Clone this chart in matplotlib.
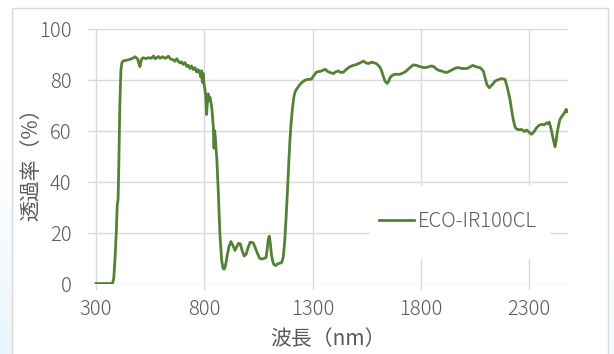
import numpy as np
import matplotlib
matplotlib.use("Agg")
import matplotlib.pyplot as plt
from matplotlib.patches import Rectangle

plt.rcParams["font.family"] = ["Noto Sans CJK JP", "DejaVu Sans"]
plt.rcParams["font.weight"] = "light"

# ── Transmittance spectrum ────────────────────────────────────────────────────
wavelength = [
    300, 376, 382, 388, 394, 398, 402, 405, 410, 415, 420, 426, 440, 457, 470,
    480, 492, 498, 503, 510, 518, 530, 542, 555, 565, 573, 580, 588, 596, 607,
    619, 627, 634, 645, 657, 665, 673, 680, 688, 695, 703, 711, 719, 726, 734,
    741, 749, 757, 765, 772, 780, 784, 788, 791, 795, 799, 803, 807, 811, 815,
    818, 822, 827, 830, 834, 838, 842, 845, 848, 851, 854, 858, 865, 872, 880,
    886, 891, 896, 901, 906, 914, 923, 932, 942, 950, 958, 966, 975, 984, 993,
    1002, 1012, 1020, 1027, 1035, 1045, 1055, 1065, 1075, 1085, 1090, 1095,
    1100, 1105, 1110, 1116, 1122, 1131, 1140, 1150, 1158, 1165, 1172, 1178,
    1184, 1190, 1196, 1202, 1208, 1214, 1220, 1227, 1235, 1242, 1250, 1265,
    1280, 1295, 1304, 1319, 1342, 1358, 1370, 1381, 1396, 1408, 1419, 1431,
    1442, 1457, 1473, 1488, 1504, 1520, 1535, 1547, 1558, 1570, 1581, 1593,
    1604, 1612, 1619, 1627, 1635, 1645, 1652, 1658, 1670, 1681, 1704, 1727,
    1750, 1765, 1780, 1797, 1810, 1820, 1835, 1850, 1862, 1873, 1885, 1896,
    1908, 1920, 1935, 1950, 1962, 1973, 1990, 2004, 2020, 2040, 2057, 2074,
    2089, 2097, 2105, 2117, 2130, 2143, 2158, 2174, 2189, 2200, 2212, 2220,
    2227, 2234, 2240, 2252, 2266, 2278, 2289, 2300, 2312, 2324, 2335, 2346,
    2358, 2370, 2381, 2388, 2393, 2400, 2406, 2412, 2420, 2425, 2430, 2437,
    2443, 2452, 2462, 2471, 2475, 2479,
]
transmittance = [
    0.0, 0.0, 2.0, 10.0, 21.0, 31.0, 33.0, 45.0, 70.0, 84.0, 87.0, 87.6, 87.8, 88.2, 88.6,
    89.2, 88.4, 86.5, 85.3, 88.2, 88.8, 88.5, 88.8, 88.6, 89.5, 88.4, 88.8, 89.3, 88.6, 89.2,
    88.6, 88.9, 89.4, 88.3, 88.0, 87.4, 88.4, 87.5, 86.7, 87.2, 86.2, 86.9, 85.4, 85.8, 84.6,
    85.6, 84.2, 84.9, 83.2, 84.1, 82.6, 81.2, 83.7, 79.2, 82.6, 78.5, 76.4, 73.5, 66.5, 72.3,
    74.6, 72.0, 73.2, 71.4, 69.6, 65.8, 61.5, 53.2, 60.1, 57.5, 53.8, 49.0, 35.7, 20.0, 9.4,
    6.2, 5.6, 6.3, 8.5, 11.0, 14.5, 16.5, 15.0, 13.0, 14.5, 15.8, 15.6, 13.0, 10.8, 11.5,
    14.0, 16.2, 16.2, 15.8, 14.2, 12.0, 10.0, 9.6, 9.8, 10.2, 13.0, 17.0,
    18.6, 16.0, 11.5, 8.8, 7.4, 7.1, 7.8, 8.0, 8.3, 10.5, 17.0, 26.0,
    36.0, 47.0, 57.0, 64.0, 69.5, 73.5, 75.5, 76.5, 77.5, 78.3, 79.0, 80.0,
    80.3, 80.4, 81.6, 83.2, 83.6, 84.3, 83.4, 83.0, 82.6, 83.3, 83.6, 83.0,
    83.1, 84.3, 85.3, 85.8, 86.2, 86.8, 87.5, 86.8, 86.5, 87.0, 86.9, 86.6,
    85.8, 85.0, 83.6, 81.5, 79.6, 78.7, 79.6, 81.0, 82.0, 82.3, 82.3, 83.2,
    84.9, 86.0, 85.8, 85.3, 85.0, 84.9, 85.2, 85.6, 85.2, 84.3, 83.8, 83.6,
    83.2, 83.0, 83.6, 84.3, 84.8, 84.9, 84.6, 84.5, 84.8, 85.8, 85.2, 84.9,
    83.6, 81.0, 78.3, 77.0, 78.2, 79.6, 80.2, 80.6, 80.3, 77.0, 72.4, 68.0,
    64.6, 62.0, 60.9, 60.5, 60.6, 59.8, 60.4, 59.5, 58.7, 59.8, 61.3, 62.2,
    62.6, 62.4, 63.2, 62.8, 63.5, 61.5, 59.0, 56.7, 53.8, 56.0, 59.3, 62.5,
    64.6, 65.8, 66.9, 68.5, 67.5, 67.8,
]
series_label = "ECO-IR100CL"

x_ticks = [300, 800, 1300, 1800, 2300]
y_ticks = [0, 20, 40, 60, 80, 100]

LINE = "#548235"
GRID = "#d9d9d9"
TEXT = "#595959"

W, H = 614, 354
fig = plt.figure(figsize=(W / 100, H / 100), dpi=100)

# pale blue backdrop behind the chart frame
bg = fig.add_axes([0, 0, 1, 1], zorder=-2)
yy = np.linspace(0, 1, 200)[:, None]
xx = np.linspace(0, 1, 300)[None, :]
shade = np.clip((yy - 0.45) / 0.55, 0, 1) * np.clip(1 - xx * 6, 0.35, 1)
rgb = np.ones((200, 300, 3))
rgb[..., 0] -= 0.09 * shade
rgb[..., 1] -= 0.04 * shade
rgb[..., 2] -= 0.01 * shade
bg.imshow(rgb, extent=[0, 1, 0, 1], aspect="auto", origin="upper")
bg.set_xlim(0, 1)
bg.set_ylim(0, 1)
bg.axis("off")
bg.add_patch(Rectangle((12 / W, -0.05), 596 / W, (H - 8) / H + 0.05,
                       facecolor="white", edgecolor=GRID, linewidth=1.0))

ax = fig.add_axes([88 / W, (H - 283.5) / H, 480 / W, 254.2 / H])
ax.set_facecolor("none")
ax.set_axisbelow(True)

ax.plot(wavelength, transmittance, color=LINE, linewidth=2.0,
        solid_joinstyle="round", label=series_label, zorder=3)

ax.set_xlim(263, 2480)
ax.set_ylim(0, 100)
ax.set_xticks(x_ticks)
ax.set_yticks(y_ticks)
ax.grid(True, color=GRID, linewidth=1.0)
for s in ax.spines.values():
    s.set_visible(False)

ax.tick_params(axis="x", length=4, width=1.0, color=GRID, direction="out",
               pad=7, labelsize=14.5, labelcolor=TEXT)
ax.tick_params(axis="y", length=0, pad=12, labelsize=14.5, labelcolor=TEXT)

ax.set_xlabel("波長（nm）", fontsize=15, color=TEXT)
ax.xaxis.set_label_coords(0.5, -0.175)
ax.set_ylabel("透過率（%）", fontsize=15, color=TEXT)
ax.yaxis.set_label_coords(-0.095, 0.49)

# white panel under the legend hides the grid there
ax.add_patch(Rectangle((0.588, 0.095), 0.375, 0.29, transform=ax.transAxes,
                       facecolor="white", edgecolor="none", zorder=1))
leg = ax.legend(loc="center left", bbox_to_anchor=(0.59, 0.245),
                frameon=False, fontsize=14.5, handlelength=1.75,
                handletextpad=0.15, borderaxespad=0)
for t in leg.get_texts():
    t.set_color(TEXT)

fig.savefig("out.png", dpi=100)
